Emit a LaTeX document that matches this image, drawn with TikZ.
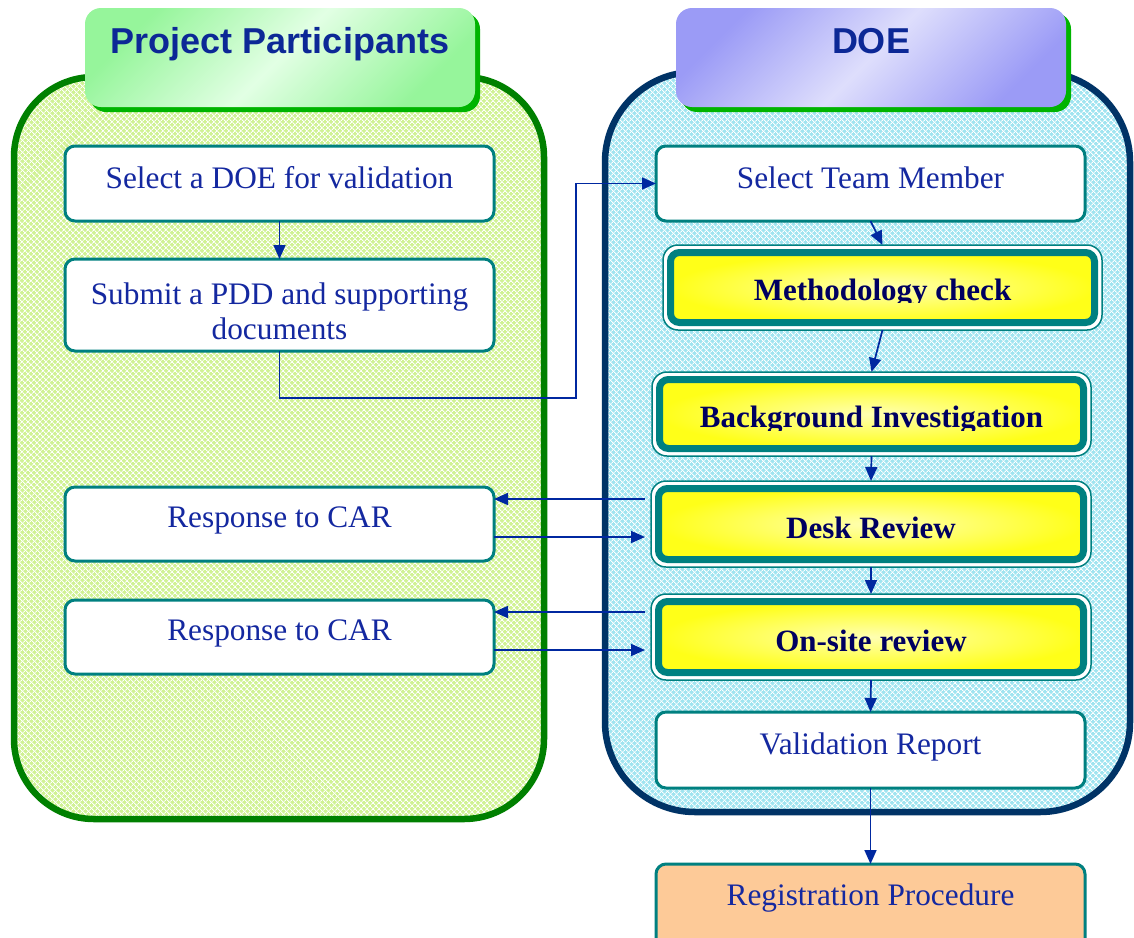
\documentclass[tikz,border=0pt]{standalone}
\usepackage{fontspec}
\setmainfont{Liberation Serif}
\newfontfamily\headfont{Liberation Sans}
\usetikzlibrary{arrows.meta,patterns.meta}

\definecolor{ppline}{RGB}{0,128,0}
\definecolor{ppfill}{RGB}{208,242,148}
\definecolor{doeline}{RGB}{0,51,102}
\definecolor{doefill}{RGB}{160,228,240}
\definecolor{tealline}{RGB}{0,128,128}
\definecolor{flowc}{RGB}{0,40,160}
\definecolor{plaintext}{RGB}{20,40,160}
\definecolor{boldtext}{RGB}{0,0,96}
\definecolor{headtext}{RGB}{12,40,150}
\definecolor{shadowgreen}{RGB}{0,180,0}
\definecolor{greenD}{RGB}{150,245,155}
\definecolor{greenL}{RGB}{226,255,228}
\definecolor{blueD}{RGB}{155,155,246}
\definecolor{blueL}{RGB}{222,222,252}
\definecolor{yellowL}{RGB}{255,255,178}
\definecolor{yellowD}{RGB}{255,255,24}
\definecolor{regfill}{RGB}{253,202,152}

% plain rounded box: name, x1, y1, x2, y2, extra style
\newcommand\plainbox[6]{%
  \node[plainshape,#6, minimum width={#4-#2}, minimum height={#5-#3}] (#1)
    at ({(#2+#4)/2},{(#3+#5)/2}) {};}

% framed yellow step: name, x1, y1, x2, y2, baseline, clip line, label
\newcommand\stepbox[8]{%
  \node[shellshape, minimum width={#4-#2}, minimum height={#5-#3}] (#1)
    at ({(#2+#4)/2},{(#3+#5)/2}) {};
  \draw[stepframe] ({#2+7.5},{#3+7.5}) rectangle ({#4-7.5},{#5-7.5});
  \begin{scope}
    \clip ({#2},{#3}) rectangle ({#4},{#7});
    \node[steptext] (#1-label) at ({(#2+#4)/2},{#6}) {#8};
  \end{scope}}

\begin{document}
\begin{tikzpicture}[x=1pt,y=-1pt,
  plainshape/.style={rectangle, draw=tealline, line width=3pt, fill=white,
    rounded corners=10pt, inner sep=0pt, outer sep=0pt},
  shellshape/.style={rectangle, draw=tealline, line width=1.5pt, fill=white,
    rounded corners=15pt, inner sep=0pt, outer sep=0pt},
  stepframe/.style={draw=tealline, line width=7pt, rounded corners=9pt,
    inner color=yellowL, outer color=yellowD},
  flow/.style={draw=flowc, line width=1.7pt, -{Triangle[length=14pt,width=12pt]}},
  plainlabel/.style={font=\fontsize{31.3}{35}\selectfont, text=plaintext,
    anchor=base, inner sep=0pt},
  steptext/.style={font=\fontsize{31}{35}\selectfont\bfseries, text=boldtext,
    anchor=base, inner sep=0pt},
  headlabel/.style={font=\headfont\bfseries\fontsize{36}{40}\selectfont,
    text=headtext, anchor=base, inner sep=0pt},
  hatch/.style={pattern={Lines[angle=45,distance=4pt,line width=0.9pt]},
    pattern color=white},
  hatchb/.style={pattern={Lines[angle=-45,distance=4pt,line width=0.9pt]},
    pattern color=white},
]
\useasboundingbox (0,0) rectangle (1134,937);
\fill[white] (0,0) rectangle (1134,937);

% ---- swimlane containers ----
\fill[ppfill, rounded corners=80pt] (14,77) rectangle (544,819);
\fill[hatch, rounded corners=80pt] (14,77) rectangle (544,819);
\fill[hatchb, rounded corners=80pt] (14,77) rectangle (544,819);
\draw[ppline, line width=6.5pt, rounded corners=80pt] (14,77) rectangle (544,819);

\fill[doefill, rounded corners=90pt] (605,72) rectangle (1130,812);
\fill[hatch, rounded corners=90pt] (605,72) rectangle (1130,812);
\fill[hatchb, rounded corners=90pt] (605,72) rectangle (1130,812);
\draw[doeline, line width=6.5pt, rounded corners=90pt] (605,72) rectangle (1130,812);

% ---- lane headers ----
\fill[shadowgreen, rounded corners=16pt] (90,13) rectangle (480,112);
\shade[rounded corners=16pt, top color=greenD, bottom color=greenD,
  middle color=greenL, shading angle=45] (85,8) rectangle (475,107);
\node[headlabel] (pphead) at (280,53) {Project Participants};

\fill[shadowgreen, rounded corners=16pt] (681,13) rectangle (1071,112);
\shade[rounded corners=16pt, top color=blueD, bottom color=blueD,
  middle color=blueL, shading angle=45] (676,8) rectangle (1066,107);
\node[headlabel] (doehead) at (871,53) {DOE};

% ---- project participant steps ----
\plainbox{sel}{65}{146}{494}{221}{}
\node[plainlabel] (sel-label) at (279.5,188) {Select a DOE for validation};
\plainbox{sub}{65}{259}{494}{351}{}
\node[plainlabel, anchor=center, align=center] (sub-label) at (279.5,311)
  {Submit a PDD and supporting\\documents};
\plainbox{resA}{65}{487}{494}{561}{}
\node[plainlabel] (resA-label) at (279.5,527) {Response to CAR};
\plainbox{resB}{65}{600}{494}{674}{}
\node[plainlabel] (resB-label) at (279.5,640) {Response to CAR};

% ---- DOE steps ----
\plainbox{stm}{656}{146}{1085}{221}{}
\node[plainlabel] (stm-label) at (870.5,188) {Select Team Member};
\stepbox{meth}{663}{245}{1102}{330}{300}{302.5}{Methodology check}
\stepbox{bg}{652}{372}{1091}{456}{427}{430}{Background Investigation}
\stepbox{desk}{651}{481}{1091}{567}{538}{567}{Desk Review}
\stepbox{onsite}{651}{594}{1091}{680}{651}{680}{On-site review}
\plainbox{valid}{656}{712}{1085}{788}{}
\node[plainlabel] (valid-label) at (870.5,754) {Validation Report};
\plainbox{reg}{656}{864}{1085}{950}{fill=regfill}
\node[plainlabel] (reg-label) at (870.5,905) {Registration Procedure};

% ---- connectors ----
\coordinate (turn) at (576,398);
\draw[flow] (sel.south) -- (sub.north);
\draw[flow] (sub.south) |- (turn) |- (stm.west);
\draw[flow] (stm.south) -- (meth.north);
\draw[flow] (meth.south) -- (bg.north);
\draw[flow] (bg.south) -- (desk.north);
\draw[flow] (desk.south) -- (onsite.north);
\draw[flow] (onsite.south) -- (valid.north);
\draw[flow] (valid.south) -- (reg.north);

\coordinate (deskL) at ([xshift=-6pt]desk.west);
\coordinate (onsiteL) at ([xshift=-6pt]onsite.west);
\coordinate (carA1) at ([yshift=-12pt]resA.north east);
\coordinate (carA2) at ([yshift=24pt]resA.south east);
\coordinate (carB1) at ([yshift=-12pt]resB.north east);
\coordinate (carB2) at ([yshift=24pt]resB.south east);
\draw[flow] (deskL |- carA1) -- (carA1);
\draw[flow] (carA2) -- (deskL |- carA2);
\draw[flow] (onsiteL |- carB1) -- (carB1);
\draw[flow] (carB2) -- (onsiteL |- carB2);
\end{tikzpicture}
\end{document}
